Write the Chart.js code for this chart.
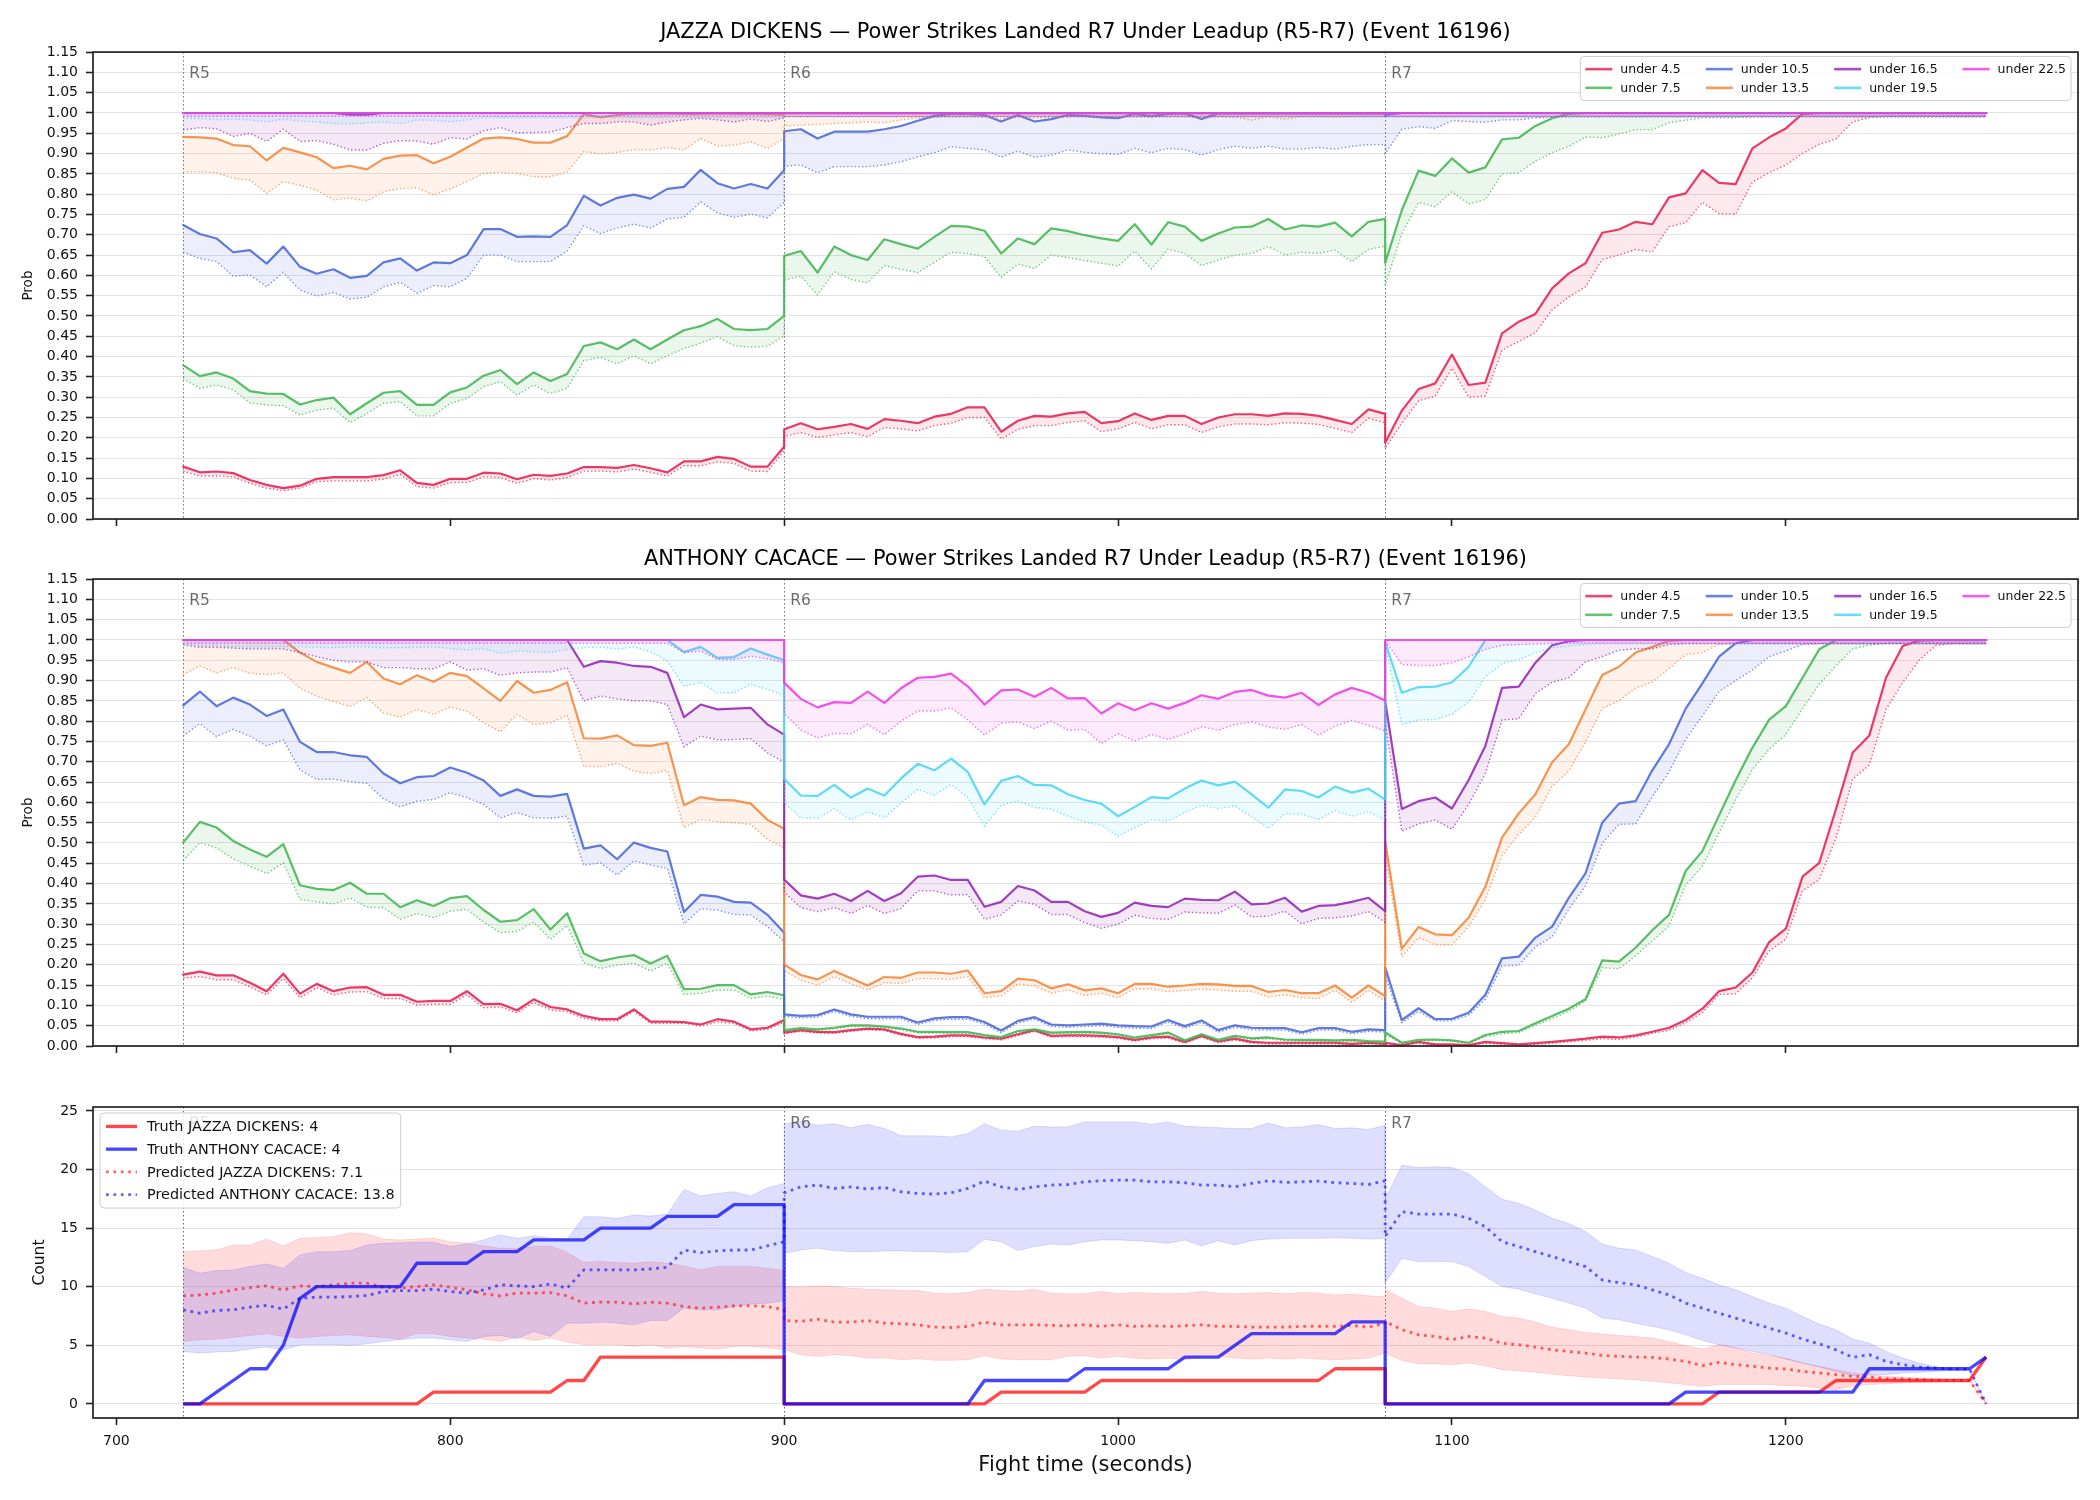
<!DOCTYPE html>
<html><head><meta charset="utf-8">
<script src="https://cdn.jsdelivr.net/npm/chart.js@4.4.1/dist/chart.umd.min.js"></script>
<style>
html,body{margin:0;padding:0;background:#fff;}
#wrap{position:relative;width:2100px;height:1500px;background:#fff;}
canvas{position:absolute;left:0;}
#err{position:absolute;left:10px;top:10px;color:red;font:14px monospace;}
</style></head><body>
<div id="wrap">
<canvas id="c1" width="2100" height="527" style="top:0;width:2100px;height:527px"></canvas>
<canvas id="c2" width="2100" height="533" style="top:527px;width:2100px;height:533px"></canvas>
<canvas id="c3" width="2100" height="440" style="top:1060px;width:2100px;height:440px"></canvas>
<div id="err"></div>
</div>
<script>
// ---------------- DATA ----------------
const fighterNames = ['JAZZA DICKENS', 'ANTHONY CACACE'];
const titleSuffix = ' \u2014 Power Strikes Landed R7 Under Leadup (R5-R7) (Event 16196)';
const roundStarts = [720, 900, 1080];
const roundLabels = ['R5', 'R6', 'R7'];
const xTicks = [700, 800, 900, 1000, 1100, 1200];
const probTicks = [0,0.05,0.10,0.15,0.20,0.25,0.30,0.35,0.40,0.45,0.50,0.55,0.60,0.65,0.70,0.75,0.80,0.85,0.90,0.95,1.00,1.05,1.10,1.15];
const countTicks = [0, 5, 10, 15, 20, 25];
const thresholdLabels = ['under 4.5','under 7.5','under 10.5','under 13.5','under 16.5','under 19.5','under 22.5'];
const truthTotals = [4, 4];
const predictedTotals = [7.1, 13.8];

const times = [720,725,730,735,740,745,750,755,760,765,770,775,780,785,790,795,800,805,810,815,820,825,830,835,840,845,850,855,860,865,870,875,880,885,890,895,900,
900,905,910,915,920,925,930,935,940,945,950,955,960,965,970,975,980,985,990,995,1000,1005,1010,1015,1020,1025,1030,1035,1040,1045,1050,1055,1060,1065,1070,1075,1080,
1080,1085,1090,1095,1100,1105,1110,1115,1120,1125,1130,1135,1140,1145,1150,1155,1160,1165,1170,1175,1180,1185,1190,1195,1200,1205,1210,1215,1220,1225,1230,1235,1240,1245,1250,1255,1260];

// Panel 1: JAZZA DICKENS (solid line and dotted line per threshold)
const jdSolid45 = [.129,.115,.117,.113,.096,.084,.076,.082,.099,.103,.103,.103,.108,.120,.089,.084,.099,.099,.114,.112,.098,.109,.106,.112,.128,.128,.126,.133,.125,.115,.142,.142,.153,.148,.129,.129,.178,
.221,.236,.221,.227,.234,.222,.246,.242,.236,.252,.259,.275,.275,.215,.242,.254,.252,.260,.264,.236,.241,.260,.244,.254,.254,.234,.250,.258,.258,.254,.260,.259,.254,.244,.234,.270,.259,
.188,.267,.320,.334,.405,.330,.336,.457,.486,.505,.568,.605,.630,.705,.713,.732,.726,.792,.802,.859,.828,.825,.913,.940,.962,.998,1,1,1,1,1,1,1,1,1,1,1];
const jdDot45 = [.118,.106,.106,.104,.088,.076,.070,.076,.092,.094,.094,.094,.098,.110,.080,.076,.090,.090,.104,.102,.088,.099,.096,.102,.118,.118,.116,.123,.115,.106,.131,.131,.141,.137,.118,.117,.168,
.203,.213,.201,.207,.213,.203,.225,.222,.217,.230,.236,.250,.250,.197,.221,.230,.230,.238,.242,.215,.222,.238,.222,.232,.232,.213,.227,.234,.234,.232,.237,.236,.233,.223,.213,.248,.237,
.174,.236,.291,.303,.371,.300,.303,.416,.437,.459,.515,.547,.572,.639,.650,.664,.658,.720,.730,.780,.752,.751,.830,.853,.872,.900,.923,.936,.978,.989,.992,.992,.992,.992,.992,.992,.992];
const jdSolid75 = [.379,.352,.361,.346,.315,.309,.308,.282,.293,.299,.258,.285,.311,.315,.281,.281,.312,.324,.353,.367,.332,.361,.340,.357,.426,.435,.418,.442,.418,.442,.465,.475,.493,.468,.465,.468,.500,
.648,.660,.607,.671,.650,.638,.689,.677,.666,.695,.722,.720,.710,.654,.691,.677,.716,.709,.699,.691,.685,.726,.676,.731,.720,.685,.703,.718,.720,.739,.713,.723,.720,.730,.696,.732,.739,
.631,.761,.858,.845,.888,.853,.866,.935,.939,.968,.987,.998,1,1,1,1,1,1,1,1,1,1,1,1,1,1,1,1,1,1,1,1,1,1,1,1,1];
const jdDot75 = [.346,.322,.330,.318,.286,.281,.279,.256,.268,.273,.237,.260,.285,.289,.254,.254,.285,.297,.326,.338,.305,.330,.309,.322,.390,.398,.382,.402,.382,.402,.420,.433,.449,.427,.423,.426,.451,
.589,.598,.552,.609,.590,.582,.624,.615,.607,.632,.657,.654,.646,.595,.628,.617,.650,.644,.636,.630,.623,.660,.616,.665,.654,.624,.638,.650,.654,.671,.650,.657,.654,.662,.634,.664,.672,
.576,.703,.780,.769,.806,.776,.787,.850,.853,.882,.902,.918,.941,.939,.948,.959,.959,.976,.982,.988,.988,.988,.991,.991,.991,.991,.991,.991,.991,.991,.991,.991,.991,.991,.991,.991,.991];
const jdSolid105 = [.724,.702,.691,.657,.662,.629,.671,.621,.604,.615,.594,.599,.632,.642,.612,.632,.630,.650,.714,.714,.695,.696,.695,.724,.796,.772,.791,.799,.789,.813,.818,.860,.827,.814,.825,.814,.859,
.955,.960,.937,.954,.954,.954,.960,.968,.981,.993,.998,.998,.995,.979,.995,.979,.985,.995,.993,.989,.987,.998,.992,.998,.999,.985,.999,.999,.999,.999,.999,.999,.999,.999,.999,.999,.999,
.995,1,1,1,1,1,1,1,1,1,1,1,1,1,1,1,1,1,1,1,1,1,1,1,1,1,1,1,1,1,1,1,1,1,1,1,1];
const jdDot105 = [.657,.642,.634,.598,.601,.572,.607,.564,.549,.558,.542,.546,.572,.583,.556,.575,.572,.593,.650,.650,.634,.634,.634,.660,.722,.703,.717,.726,.717,.739,.743,.781,.754,.743,.751,.742,.780,
.869,.872,.853,.868,.868,.868,.872,.880,.892,.902,.917,.913,.909,.891,.906,.891,.896,.909,.903,.900,.898,.913,.902,.913,.910,.896,.910,.918,.913,.918,.911,.911,.915,.911,.918,.922,.922,
.900,.960,.966,.962,.981,.979,.977,.983,.983,.988,.990,.991,.991,.991,.991,.991,.991,.991,.991,.991,.991,.991,.991,.991,.991,.991,.991,.991,.991,.991,.991,.991,.991,.991,.991,.991,.991];
const jdSolid135 = [.941,.940,.937,.921,.918,.883,.914,.903,.891,.864,.870,.861,.887,.895,.896,.876,.892,.915,.937,.940,.936,.927,.927,.943,.997,.989,.995,.999,.998,.999,.997,.998,.999,.998,.998,.997,.996,
.999,.999,.999,.999,.999,.999,.999,.999,.999,.999,.999,.999,.999,.999,.999,.999,.999,.999,.999,.999,.999,.999,.999,.999,.999,.999,.999,.999,.999,.999,.999,.999,.999,.999,.999,.999,.999,
1,1,1,1,1,1,1,1,1,1,1,1,1,1,1,1,1,1,1,1,1,1,1,1,1,1,1,1,1,1,1,1,1,1,1,1,1];
const jdDot135 = [.855,.855,.853,.839,.835,.802,.831,.822,.810,.786,.791,.783,.806,.814,.816,.798,.813,.831,.851,.854,.851,.843,.843,.855,.905,.899,.903,.910,.909,.915,.909,.937,.919,.921,.929,.913,.937,
.968,.970,.972,.974,.976,.978,.976,.983,.987,.989,.991,.991,.990,.985,.990,.987,.989,.990,.991,.990,.990,.991,.990,.991,.991,.988,.991,.990,.982,.991,.984,.991,.991,.990,.991,.991,.991,
.991,.991,.991,.991,.991,.991,.991,.991,.991,.991,.991,.991,.991,.991,.991,.991,.991,.991,.991,.991,.991,.991,.991,.991,.991,.991,.991,.991,.991,.991,.991,.991,.991,.991,.991,.991,.991];
const jdSolid165 = [1,1,1,1,1,1,1,1,1,1,.996,.996,1,1,1,1,1,1,1,1,1,1,1,1,1,1,1,1,1,1,1,1,1,1,1,1,1,
1,1,1,1,1,1,1,1,1,1,1,1,1,1,1,1,1,1,1,1,1,1,1,1,1,1,1,1,1,1,1,1,1,1,1,1,1,
1,1,1,1,1,1,1,1,1,1,1,1,1,1,1,1,1,1,1,1,1,1,1,1,1,1,1,1,1,1,1,1,1,1,1,1,1];
const jdDot165 = [.958,.964,.961,.942,.950,.930,.960,.930,.932,.923,.909,.909,.925,.932,.931,.923,.939,.936,.956,.964,.951,.952,.953,.964,.974,.974,.978,.978,.970,.978,.983,.987,.983,.978,.985,.979,.988,
.991,.991,.991,.991,.991,.991,.991,.991,.991,.991,.991,.991,.991,.991,.991,.991,.991,.991,.991,.991,.991,.991,.991,.991,.991,.991,.991,.991,.991,.991,.991,.991,.991,.991,.991,.991,.991,
.991,.991,.991,.991,.991,.991,.991,.991,.991,.991,.991,.991,.991,.991,.991,.991,.991,.991,.991,.991,.991,.991,.991,.991,.991,.991,.991,.991,.991,.991,.991,.991,.991,.991,.991,.991,.991];
const jdSolid195 = [1,1,1,1,1,1,1,1,1,1,1,1,1,1,1,1,1,1,1,1,1,1,1,1,1,1,1,1,1,1,1,1,1,1,1,1,1,
1,1,1,1,1,1,1,1,1,1,1,1,1,1,1,1,1,1,1,1,1,1,1,1,1,1,1,1,1,1,1,1,1,1,1,1,1,
1,1,1,1,1,1,1,1,1,1,1,1,1,1,1,1,1,1,1,1,1,1,1,1,1,1,1,1,1,1,1,1,1,1,1,1,1];
const jdDot195 = [.987,.986,.983,.985,.983,.978,.985,.980,.978,.974,.973,.976,.978,.974,.983,.982,.978,.983,.989,.989,.989,.989,.989,.989,.989,.989,.989,.989,.989,.989,.989,.989,.989,.989,.989,.989,.989,
.991,.991,.991,.991,.991,.991,.991,.991,.991,.991,.991,.991,.991,.991,.991,.991,.991,.991,.991,.991,.991,.991,.991,.991,.991,.991,.991,.991,.991,.991,.991,.991,.991,.991,.991,.991,.991,
.991,.991,.991,.991,.991,.991,.991,.991,.991,.991,.991,.991,.991,.991,.991,.991,.991,.991,.991,.991,.991,.991,.991,.991,.991,.991,.991,.991,.991,.991,.991,.991,.991,.991,.991,.991,.991];
const jdSolid225 = [1,1,1,1,1,1,1,1,1,1,1,1,1,1,1,1,1,1,1,1,1,1,1,1,1,1,1,1,1,1,1,1,1,1,1,1,1,
1,1,1,1,1,1,1,1,1,1,1,1,1,1,1,1,1,1,1,1,1,1,1,1,1,1,1,1,1,1,1,1,1,1,1,1,1,
1,1,1,1,1,1,1,1,1,1,1,1,1,1,1,1,1,1,1,1,1,1,1,1,1,1,1,1,1,1,1,1,1,1,1,1,1];
const jdDot225 = [.992,.992,.992,.992,.992,.992,.992,.992,.992,.992,.992,.992,.992,.992,.992,.992,.992,.992,.992,.992,.992,.992,.992,.992,.992,.992,.992,.992,.992,.992,.992,.992,.992,.992,.992,.992,.992,
.992,.992,.992,.992,.992,.992,.992,.992,.992,.992,.992,.992,.992,.992,.992,.992,.992,.992,.992,.992,.992,.992,.992,.992,.992,.992,.992,.992,.992,.992,.992,.992,.992,.992,.992,.992,.992,
.992,.992,.992,.992,.992,.992,.992,.992,.992,.992,.992,.992,.992,.992,.992,.992,.992,.992,.992,.992,.992,.992,.992,.992,.992,.992,.992,.992,.992,.992,.992,.992,.992,.992,.992,.992,.992];

// Panel 2: ANTHONY CACACE
const acSolid45 = [.176,.183,.174,.174,.156,.135,.178,.129,.153,.135,.144,.145,.126,.126,.109,.111,.111,.135,.103,.104,.088,.115,.096,.090,.074,.066,.066,.090,.060,.060,.059,.053,.066,.060,.041,.045,.064,
.033,.039,.035,.034,.039,.043,.041,.030,.022,.023,.026,.026,.021,.018,.029,.039,.025,.026,.026,.025,.022,.015,.021,.023,.010,.025,.011,.018,.010,.008,.008,.008,.008,.008,.005,.008,.005,
.008,.002,.010,.004,.004,.002,.010,.007,.004,.007,.010,.014,.018,.023,.021,.026,.035,.045,.064,.092,.135,.144,.181,.256,.289,.417,.451,.583,.722,.765,.907,.985,.999,1,1,1,1];
const acDot45 = [.167,.171,.163,.163,.146,.126,.166,.119,.144,.126,.133,.134,.117,.117,.101,.103,.103,.126,.094,.096,.082,.107,.089,.084,.068,.062,.062,.085,.056,.056,.056,.049,.059,.056,.037,.041,.059,
.030,.036,.032,.031,.036,.040,.038,.027,.019,.020,.023,.023,.018,.015,.026,.036,.022,.023,.023,.022,.019,.012,.018,.020,.007,.022,.008,.015,.007,.005,.005,.005,.005,.005,.003,.005,.003,
.004,.002,.007,.002,.002,.002,.007,.004,.002,.004,.007,.010,.014,.018,.016,.022,.031,.039,.057,.082,.127,.129,.168,.234,.263,.382,.410,.511,.657,.692,.829,.895,.951,.987,.991,.991,.991];
const acSolid75 = [.501,.552,.538,.505,.484,.466,.497,.396,.387,.384,.402,.375,.375,.342,.359,.345,.364,.369,.335,.306,.310,.337,.287,.327,.228,.209,.218,.224,.203,.222,.140,.141,.150,.150,.127,.133,.125,
.039,.044,.041,.045,.051,.051,.048,.043,.035,.035,.034,.034,.027,.022,.037,.041,.033,.034,.035,.033,.029,.021,.027,.033,.014,.029,.015,.025,.019,.021,.016,.015,.015,.014,.015,.012,.011,
.034,.008,.015,.016,.014,.008,.027,.035,.037,.056,.074,.092,.115,.211,.208,.242,.285,.323,.431,.480,.568,.655,.735,.804,.837,.907,.977,1,1,1,1,1,1,1,1,1,1];
const acDot75 = [.456,.501,.488,.461,.443,.425,.451,.361,.355,.350,.365,.342,.341,.312,.326,.316,.332,.337,.305,.279,.282,.305,.263,.297,.205,.191,.199,.204,.185,.204,.127,.130,.138,.138,.117,.123,.115,
.036,.041,.038,.042,.048,.048,.045,.040,.032,.032,.031,.031,.024,.019,.034,.038,.030,.031,.032,.030,.026,.018,.024,.030,.011,.026,.012,.022,.016,.018,.013,.012,.012,.011,.012,.009,.008,
.029,.006,.012,.014,.012,.007,.023,.030,.033,.051,.067,.086,.111,.193,.190,.222,.259,.295,.396,.443,.525,.607,.681,.731,.767,.831,.891,.936,.978,.987,.992,.992,.992,.992,.992,.992,.992];
const acSolid105 = [.839,.873,.837,.858,.841,.813,.829,.749,.724,.724,.716,.712,.671,.647,.662,.665,.686,.673,.654,.616,.632,.616,.614,.621,.486,.494,.460,.501,.488,.479,.330,.372,.368,.355,.353,.323,.279,
.078,.074,.076,.090,.078,.072,.072,.072,.058,.068,.071,.071,.059,.038,.062,.071,.053,.051,.053,.055,.051,.049,.048,.064,.049,.063,.039,.051,.045,.044,.044,.034,.044,.044,.035,.041,.039,
.193,.064,.093,.066,.067,.082,.126,.216,.220,.267,.294,.365,.425,.550,.597,.603,.679,.743,.831,.893,.959,.992,1,1,1,1,1,1,1,1,1,1,1,1,1,1,1];
const acDot105 = [.763,.794,.762,.780,.763,.739,.754,.680,.657,.657,.651,.647,.609,.589,.603,.607,.624,.612,.595,.562,.575,.562,.561,.566,.445,.451,.421,.456,.446,.437,.301,.338,.335,.324,.323,.294,.257,
.073,.069,.071,.085,.073,.067,.067,.067,.053,.063,.066,.066,.054,.033,.057,.066,.048,.046,.048,.050,.046,.044,.043,.059,.044,.058,.034,.046,.040,.039,.039,.029,.039,.039,.030,.036,.034,
.172,.057,.085,.062,.062,.076,.115,.197,.199,.244,.269,.337,.394,.499,.546,.547,.614,.675,.755,.813,.873,.900,.926,.959,.973,.989,.991,.991,.991,.991,.991,.991,.991,.991,.991,.991,.991];
const acSolid135 = [1,1,1,1,1,1,1,.969,.946,.932,.919,.946,.905,.891,.913,.897,.919,.911,.881,.850,.899,.870,.877,.896,.758,.757,.765,.741,.739,.747,.593,.613,.606,.605,.597,.557,.535,
.201,.175,.164,.185,.167,.149,.170,.168,.181,.181,.178,.186,.130,.135,.166,.162,.142,.152,.137,.142,.130,.153,.153,.146,.149,.153,.152,.148,.148,.133,.138,.130,.130,.149,.119,.149,.123,
.505,.240,.293,.275,.273,.316,.392,.513,.573,.620,.699,.743,.829,.914,.934,.969,.983,.998,1,1,1,1,1,1,1,1,1,1,1,1,1,1,1,1,1,1,1];
const acDot135 = [.915,.936,.919,.932,.918,.915,.919,.881,.862,.848,.837,.858,.821,.810,.829,.817,.835,.825,.796,.774,.817,.792,.796,.814,.689,.688,.696,.677,.671,.679,.538,.558,.552,.550,.546,.509,.488,
.186,.162,.150,.171,.153,.138,.156,.154,.166,.166,.164,.171,.119,.123,.153,.148,.130,.138,.125,.130,.119,.141,.141,.134,.137,.140,.138,.135,.135,.121,.126,.119,.117,.137,.108,.137,.111,
.468,.220,.267,.250,.249,.294,.361,.469,.521,.564,.640,.677,.749,.831,.850,.882,.896,.930,.964,.969,.989,.991,.991,.991,.991,.991,.991,.991,.991,.991,.991,.991,.991,.991,.991,.991,.991];
const acSolid165 = [1,1,1,1,1,1,1,1,1,1,1,1,1,1,1,1,1,1,1,1,1,1,1,1,.934,.948,.944,.936,.934,.919,.810,.841,.829,.831,.833,.792,.767,
.410,.371,.363,.375,.357,.382,.357,.376,.417,.420,.409,.409,.343,.355,.394,.383,.355,.355,.332,.318,.328,.353,.345,.342,.363,.360,.359,.380,.349,.351,.365,.331,.345,.347,.355,.365,.332,
.850,.584,.603,.612,.585,.655,.739,.882,.885,.944,.987,.997,1,1,1,1,1,1,1,1,1,1,1,1,1,1,1,1,1,1,1,1,1,1,1,1,1];
const acDot165 = [.988,.982,.982,.980,.978,.978,.978,.969,.959,.950,.946,.946,.932,.932,.929,.929,.946,.926,.929,.913,.919,.921,.921,.932,.850,.862,.855,.850,.850,.841,.737,.763,.754,.755,.757,.722,.699,
.379,.341,.331,.341,.327,.346,.326,.339,.382,.382,.372,.373,.312,.323,.357,.349,.324,.324,.304,.290,.300,.322,.314,.312,.330,.328,.327,.347,.318,.320,.332,.301,.314,.316,.320,.331,.305,
.796,.529,.547,.557,.534,.595,.671,.803,.806,.868,.896,.907,.946,.959,.975,.978,.978,.989,.991,.991,.991,.991,.991,.991,.991,.991,.991,.991,.991,.991,.991,.991,.991,.991,.991,.991,.991];
const acSolid195 = [1,1,1,1,1,1,1,1,1,1,1,1,1,1,1,1,1,1,1,1,1,1,1,1,1,1,1,1,1,1,.970,.983,.956,.958,.979,.964,.950,
.658,.617,.616,.643,.612,.634,.617,.659,.695,.679,.708,.675,.595,.653,.665,.643,.642,.620,.606,.597,.566,.589,.613,.610,.634,.654,.642,.651,.620,.587,.632,.628,.612,.639,.624,.634,.607,
.995,.870,.884,.885,.896,.934,1,1,1,1,1,1,1,1,1,1,1,1,1,1,1,1,1,1,1,1,1,1,1,1,1,1,1,1,1,1,1];
const acDot195 = [.988,.986,.986,.984,.983,.983,.984,.983,.982,.981,.983,.983,.981,.981,.982,.983,.979,.975,.979,.967,.973,.971,.969,.977,.981,.983,.977,.983,.971,.948,.886,.895,.870,.870,.891,.878,.864,
.599,.562,.561,.585,.557,.577,.562,.599,.632,.617,.644,.612,.542,.593,.603,.587,.584,.566,.552,.544,.517,.538,.557,.554,.575,.593,.585,.591,.565,.536,.573,.571,.558,.579,.566,.577,.557,
.989,.792,.803,.804,.817,.847,.909,.942,.952,.968,.981,.985,.989,.991,.991,.991,.991,.991,.991,.991,.991,.991,.991,.991,.991,.991,.991,.991,.991,.991,.991,.991,.991,.991,.991,.991,.991];
const acSolid225 = [1,1,1,1,1,1,1,1,1,1,1,1,1,1,1,1,1,1,1,1,1,1,1,1,1,1,1,1,1,1,1,1,1,1,1,1,1,
.895,.855,.834,.847,.845,.873,.845,.881,.907,.909,.917,.886,.841,.876,.878,.860,.882,.856,.857,.819,.844,.827,.844,.831,.845,.864,.855,.872,.877,.863,.858,.870,.840,.866,.882,.870,.851,
1,1,1,1,1,1,1,1,1,1,1,1,1,1,1,1,1,1,1,1,1,1,1,1,1,1,1,1,1,1,1,1,1,1,1,1,1];
const acDot225 = [.992,.992,.992,.992,.992,.992,.992,.992,.992,.992,.992,.992,.992,.992,.992,.992,.992,.992,.992,.992,.992,.992,.992,.992,.992,.992,.992,.992,.992,.992,.969,.973,.952,.952,.960,.954,.944,
.819,.778,.759,.770,.769,.792,.767,.800,.825,.825,.833,.803,.766,.795,.798,.782,.800,.778,.780,.745,.769,.751,.767,.755,.769,.786,.778,.792,.798,.786,.780,.792,.766,.788,.802,.790,.776,
.997,.940,.937,.937,.944,.959,.977,.987,.989,.990,.992,.992,.992,.992,.992,.992,.992,.992,.992,.992,.992,.992,.992,.992,.992,.992,.992,.992,.992,.992,.992,.992,.992,.992,.992,.992,.992];

// Panel 3: counts
const truthJD = [0,0,0,0,0,0,0,0,0,0,0,0,0,0,0,1,1,1,1,1,1,1,1,2,2,4,4,4,4,4,4,4,4,4,4,4,4,
0,0,0,0,0,0,0,0,0,0,0,0,0,1,1,1,1,1,1,2,2,2,2,2,2,2,2,2,2,2,2,2,2,3,3,3,3,
0,0,0,0,0,0,0,0,0,0,0,0,0,0,0,0,0,0,0,0,1,1,1,1,1,1,1,2,2,2,2,2,2,2,2,2,4];
const truthAC = [0,0,1,2,3,3,5,9,10,10,10,10,10,10,12,12,12,12,13,13,13,14,14,14,14,15,15,15,15,16,16,16,16,17,17,17,17,
0,0,0,0,0,0,0,0,0,0,0,0,2,2,2,2,2,2,3,3,3,3,3,3,4,4,4,5,6,6,6,6,6,6,7,7,7,
0,0,0,0,0,0,0,0,0,0,0,0,0,0,0,0,0,0,1,1,1,1,1,1,1,1,1,1,1,3,3,3,3,3,3,3,4];
const predJD = [9.22,9.30,9.45,9.73,9.93,10.07,9.73,10.07,10.01,10.16,10.30,10.30,9.96,9.87,10.01,10.16,9.96,9.73,9.39,9.22,9.45,9.45,9.50,9.22,8.60,8.68,8.68,8.54,8.68,8.60,8.31,8.17,8.26,8.37,8.37,8.31,8.03,
7.12,7.04,7.23,6.98,6.98,7.12,6.89,6.84,6.75,6.55,6.52,6.61,6.98,6.75,6.75,6.75,6.70,6.67,6.75,6.61,6.75,6.61,6.67,6.61,6.67,6.75,6.61,6.61,6.55,6.55,6.55,6.61,6.61,6.61,6.70,6.55,6.89,
7.04,6.33,5.90,5.76,5.48,5.76,5.62,5.19,5.05,4.85,4.62,4.48,4.34,4.14,4.06,4.00,3.97,3.83,3.63,3.26,3.55,3.35,3.21,3.06,2.98,2.78,2.64,2.50,2.35,2.30,2.16,2.13,2.07,2.01,2.01,2.01,0];
const predAC = [8.03,7.74,7.97,8.03,8.26,8.40,8.09,9.02,9.11,9.11,9.16,9.25,9.59,9.67,9.67,9.79,9.59,9.45,9.73,10.16,10.07,10.01,10.24,9.87,11.43,11.43,11.43,11.43,11.52,11.66,13.13,12.91,13.05,13.13,13.13,13.48,13.84,
18.00,18.52,18.67,18.38,18.52,18.33,18.47,18.10,17.96,17.90,18.01,18.38,19.01,18.52,18.30,18.52,18.67,18.72,18.95,19.04,19.09,19.09,18.95,18.95,18.87,18.67,18.67,18.52,18.81,19.04,18.89,18.95,19.01,18.87,18.81,18.72,19.04,
14.30,16.40,16.20,16.20,16.20,15.83,15.12,13.84,13.42,12.99,12.57,12.14,11.72,10.58,10.35,10.16,9.73,9.30,8.60,8.17,7.74,7.32,6.89,6.47,6.04,5.53,5.13,4.62,3.97,4.20,3.63,3.35,3.15,3.06,2.98,2.98,0];
const bandJDhi = [12.99,13.05,13.13,13.56,13.56,14.07,13.48,14.13,14.18,14.27,14.61,14.50,14.07,13.99,14.07,14.13,13.84,13.70,13.48,13.28,13.28,13.42,13.48,12.94,12.09,12.14,12.06,12.00,12.14,12.00,11.77,11.43,11.72,11.72,11.72,11.57,11.38,
10.01,9.96,10.07,10.01,9.87,9.79,9.73,9.67,9.67,9.45,9.39,9.50,9.79,9.67,9.59,9.79,9.45,9.39,9.39,9.59,9.39,9.50,9.45,9.39,9.45,9.59,9.45,9.39,9.45,9.50,9.39,9.50,9.45,9.30,9.36,9.22,9.16,
9.79,9.02,8.31,8.17,7.89,8.11,7.89,7.46,7.32,6.98,6.55,6.33,6.10,5.96,5.84,5.76,5.62,5.33,4.96,4.68,5.05,4.77,4.34,4.11,3.91,3.49,3.21,2.92,2.64,2.50,2.35,2.30,2.21,2.13,2.07,2.07,0];
const bandJDlo = [5.33,5.48,5.53,5.67,5.84,5.99,5.76,5.62,5.76,5.84,5.90,5.76,5.67,5.53,5.99,5.99,5.76,5.62,5.53,5.33,5.70,5.42,5.62,5.28,5.05,5.05,5.05,4.91,5.05,4.77,4.91,4.77,4.68,4.91,4.91,4.82,4.62,
4.62,4.20,4.06,4.20,4.11,3.91,3.91,3.77,3.86,3.72,3.72,3.77,4.11,3.83,3.77,3.77,3.77,4.06,4.11,3.91,4.06,3.91,3.83,3.91,3.77,3.97,4.06,3.91,3.83,3.91,3.83,3.91,3.83,3.77,3.83,3.91,4.34,
4.34,3.72,3.43,3.43,3.35,3.49,3.26,2.92,2.84,2.70,2.55,2.41,2.30,2.21,2.13,2.07,1.93,1.79,1.65,1.50,1.65,1.65,1.65,1.65,1.56,1.50,1.36,1.22,1.56,1.65,1.73,1.79,1.84,1.87,1.93,1.93,0];
const bandAChi = [11.63,11.15,11.38,11.43,11.72,11.94,11.57,12.71,12.99,12.99,13.08,13.56,13.70,13.76,13.79,13.79,13.42,13.65,13.99,14.41,14.13,14.35,14.13,14.07,15.97,15.97,15.83,16.11,16.03,16.20,18.30,17.73,17.96,18.10,17.73,18.44,18.81,
23.91,24.11,23.77,23.91,23.55,23.86,23.49,22.87,22.87,22.87,22.78,23.06,23.91,23.35,23.26,23.69,23.63,23.63,24.06,24.06,24.06,24.06,23.86,24.06,23.69,23.63,23.57,23.49,23.49,23.97,23.55,23.63,23.83,23.49,23.55,23.40,23.77,
17.50,20.37,20.17,20.23,20.17,19.66,18.52,17.45,17.11,16.54,15.83,15.40,14.70,13.65,13.28,13.13,12.57,12.00,11.21,10.72,10.16,9.73,9.16,8.60,8.17,7.46,6.81,6.33,5.53,5.19,4.48,3.91,3.49,3.15,2.98,2.92,0];
const bandAClo = [4.48,4.34,4.43,4.48,4.68,4.85,4.57,5.05,5.05,5.05,4.99,5.13,5.33,5.48,5.62,5.62,5.48,5.33,5.76,5.84,5.56,6.18,5.76,6.89,6.89,6.98,6.89,6.75,7.12,7.12,8.17,8.03,8.03,8.31,8.51,8.60,8.79,
12.85,13.13,13.28,13.08,12.99,12.99,13.05,13.05,12.99,12.99,12.91,12.99,14.04,13.84,13.08,13.42,13.65,13.56,13.84,13.99,13.99,13.93,13.84,13.70,13.99,13.48,13.93,13.56,13.93,14.07,14.13,14.13,14.13,14.18,14.13,14.07,14.13,
10.30,12.43,12.14,12.14,12.14,11.72,10.87,10.01,9.79,9.39,9.02,8.60,8.17,7.32,7.18,6.89,6.61,6.33,5.90,5.42,5.05,4.77,4.48,4.20,3.83,3.49,3.15,2.78,2.41,2.50,2.50,2.64,2.70,2.78,2.87,2.92,0];

// ---------------- STYLE / BUILD ----------------
const thresholdColors = [[230,25,75],[60,180,75],[67,99,216],[245,130,49],[145,30,180],[66,212,244],[240,50,230]];
const FONT = "'DejaVu Sans', sans-serif";
Chart.defaults.font.family = FONT;
Chart.defaults.color = '#111';

const check = {jdSolid45,jdDot45,jdSolid75,jdDot75,jdSolid105,jdDot105,jdSolid135,jdDot135,jdSolid165,jdDot165,jdSolid195,jdDot195,jdSolid225,jdDot225,
acSolid45,acDot45,acSolid75,acDot75,acSolid105,acDot105,acSolid135,acDot135,acSolid165,acDot165,acSolid195,acDot195,acSolid225,acDot225,
truthJD,truthAC,predJD,predAC,bandJDhi,bandJDlo,bandAChi,bandAClo};
const bad = Object.entries(check).filter(([k,v]) => v.length !== times.length).map(([k,v]) => k + ':' + v.length);
if (bad.length) document.getElementById('err').textContent = 'LEN ' + times.length + ' ' + bad.join(' ');

const rgba = (c, a) => `rgba(${c[0]},${c[1]},${c[2]},${a})`;
const pts = arr => arr.map((y, i) => ({x: times[i], y}));
const xMin = 693.0, xMax = 1287.5;

const framePlugin = {
  id: 'frame',
  afterDatasetsDraw(chart) {
    const {ctx, chartArea: ca} = chart;
    ctx.save();
    ctx.strokeStyle = '#222'; ctx.lineWidth = 1.7;
    ctx.strokeRect(ca.left, ca.top, ca.right - ca.left, ca.bottom - ca.top);
    ctx.restore();
  }
};
const roundsPlugin = {
  id: 'rounds',
  beforeDatasetsDraw(chart) {
    const {ctx, chartArea: ca, scales: {x}} = chart;
    ctx.save();
    ctx.strokeStyle = 'rgba(60,60,60,0.75)'; ctx.lineWidth = 1; ctx.setLineDash([1.5, 2.5]);
    roundStarts.forEach(t => {
      const px = Math.round(x.getPixelForValue(t)) + 0.5;
      ctx.beginPath(); ctx.moveTo(px, ca.top); ctx.lineTo(px, ca.bottom); ctx.stroke();
    });
    ctx.restore();
  },
  afterDatasetsDraw(chart, args, o) {
    const {ctx, chartArea: ca, scales: {x}} = chart;
    ctx.save();
    ctx.font = `15.5px ${FONT}`; ctx.fillStyle = 'rgba(0,0,0,0.58)';
    ctx.textAlign = 'left'; ctx.textBaseline = 'middle';
    roundStarts.forEach((t, i) => ctx.fillText(roundLabels[i], x.getPixelForValue(t) + 6, ca.top + o.labelDy));
    ctx.restore();
  }
};
const boxLegendPlugin = {
  id: 'boxLegend',
  afterDraw(chart, args, o) {
    const ctx = chart.ctx, ca = chart.chartArea;
    ctx.save();
    ctx.font = `${o.fontSize}px ${FONT}`;
    const items = o.items, rows = o.rows, cols = Math.ceil(items.length / rows);
    const colW = [];
    for (let c = 0; c < cols; c++) {
      let w = 0;
      for (let r = 0; r < rows; r++) { const it = items[c * rows + r]; if (it) w = Math.max(w, ctx.measureText(it.text).width); }
      colW.push(w);
    }
    const boxW = 2 * o.padX + colW.reduce((s, w) => s + o.handle + o.gap + w, 0) + o.colSpace * (cols - 1);
    const boxH = 2 * o.padY + o.rowH * rows;
    const x0 = o.align === 'right' ? ca.right - o.dx - boxW : ca.left + o.dx;
    const y0 = ca.top + o.dy;
    const r = 4;
    ctx.beginPath();
    ctx.moveTo(x0 + r, y0);
    ctx.arcTo(x0 + boxW, y0, x0 + boxW, y0 + boxH, r);
    ctx.arcTo(x0 + boxW, y0 + boxH, x0, y0 + boxH, r);
    ctx.arcTo(x0, y0 + boxH, x0, y0, r);
    ctx.arcTo(x0, y0, x0 + boxW, y0, r);
    ctx.closePath();
    ctx.fillStyle = 'rgba(255,255,255,0.8)'; ctx.fill();
    ctx.strokeStyle = '#cccccc'; ctx.lineWidth = 1; ctx.stroke();
    let cx = x0 + o.padX;
    for (let c = 0; c < cols; c++) {
      for (let rr = 0; rr < rows; rr++) {
        const it = items[c * rows + rr]; if (!it) continue;
        const cy = y0 + o.padY + o.rowH * (rr + 0.5);
        ctx.beginPath(); ctx.setLineDash(it.dash || []); ctx.lineWidth = it.width; ctx.strokeStyle = it.color;
        ctx.lineCap = 'butt';
        ctx.moveTo(cx, cy); ctx.lineTo(cx + o.handle, cy); ctx.stroke();
        ctx.setLineDash([]);
        ctx.fillStyle = '#111'; ctx.textAlign = 'left'; ctx.textBaseline = 'middle';
        ctx.fillText(it.text, cx + o.handle + o.gap, cy + 1);
      }
      cx += o.handle + o.gap + colW[c] + o.colSpace;
    }
    ctx.restore();
  }
};

function zeroPad(s) { s.paddingTop = 0; s.paddingBottom = 0; s.paddingLeft = 0; s.paddingRight = 0; }
function xAxis(height, labels) {
  return {
    type: 'linear', min: xMin, max: xMax,
    afterBuildTicks: s => { s.ticks = xTicks.map(v => ({value: v})); },
    afterFit: s => { s.height = height; zeroPad(s); },
    ticks: {display: labels, autoSkip: false, maxRotation: 0, font: {size: 14}, color: '#111', padding: 8, callback: v => String(v)},
    grid: {drawOnChartArea: false, tickLength: 7, tickColor: '#222', tickWidth: 1.6},
    border: {display: false},
    title: labels ? {display: true, text: 'Fight time (seconds)', font: {size: 21}, color: '#111', padding: {top: 4, bottom: 21.5}} : {display: false}
  };
}
function yAxis(min, max, tickVals, fmt, titleText, titleSize, titlePad) {
  return {
    type: 'linear', min, max,
    afterBuildTicks: s => { s.ticks = tickVals.map(v => ({value: v})); },
    afterFit: s => { s.width = 93; zeroPad(s); },
    ticks: {autoSkip: false, callback: fmt, font: {size: 14}, color: '#111', padding: 8},
    grid: {color: 'rgba(0,0,0,0.11)', lineWidth: 1, tickLength: 7, tickColor: '#222', tickWidth: 1.6},
    border: {display: false},
    title: {display: true, text: titleText, font: {size: titleSize}, color: '#111', padding: {top: titlePad, bottom: 0}}
  };
}

function probChart(canvasId, fighterIdx, solids, dots, xHeight) {
  const datasets = [];
  thresholdLabels.forEach((lab, k) => {
    const c = thresholdColors[k];
    datasets.push({label: lab, data: pts(solids[k]), borderColor: rgba(c, 0.85), borderWidth: 2.2, pointRadius: 0,
      fill: false, order: -(2 * k + 1), borderJoinStyle: 'round', borderCapStyle: 'round'});
    datasets.push({label: lab + ' model', data: pts(dots[k]), borderColor: rgba(c, 0.7), borderWidth: 1.4, borderDash: [1.4, 2.3],
      pointRadius: 0, fill: '-1', backgroundColor: rgba(c, 0.1), order: -(2 * k)});
  });
  const items = thresholdLabels.map((lab, k) => ({text: lab, color: rgba(thresholdColors[k], 0.8), width: 2.6}));
  return new Chart(document.getElementById(canvasId), {
    type: 'line',
    data: {datasets},
    options: {
      responsive: false, animation: false, devicePixelRatio: 1, events: [],
      layout: {padding: {left: 0, right: 22, top: 0, bottom: 0}},
      scales: {
        x: xAxis(xHeight, false),
        y: yAxis(0, 1.15, probTicks, v => v.toFixed(2), 'Prob', 13.5, 20)
      },
      plugins: {
        legend: {display: false}, tooltip: {enabled: false},
        title: {display: true, text: fighterNames[fighterIdx] + titleSuffix, fullSize: false,
          font: {size: 20.9, weight: 'normal'}, color: '#000', padding: {top: 20.5, bottom: 6.5}},
        rounds: {labelDy: 21.5},
        boxLegend: {items, rows: 2, fontSize: 12.5, handle: 27, gap: 8, colSpace: 25, padX: 5, padY: 3.3, rowH: 18.7, align: 'right', dx: 7, dy: 4.4}
      }
    },
    plugins: [roundsPlugin, framePlugin, boxLegendPlugin]
  });
}

probChart('c1', 0, [jdSolid45,jdSolid75,jdSolid105,jdSolid135,jdSolid165,jdSolid195,jdSolid225],
  [jdDot45,jdDot75,jdDot105,jdDot135,jdDot165,jdDot195,jdDot225], 8);
probChart('c2', 1, [acSolid45,acSolid75,acSolid105,acSolid135,acSolid165,acSolid195,acSolid225],
  [acDot45,acDot75,acDot105,acDot135,acDot165,acDot195,acDot225], 14);

// Panel 3
const red = [255, 0, 0], blue = [0, 0, 255];
const truthLabels = fighterNames.map((n, i) => `Truth ${n}: ${truthTotals[i]}`);
const predLabels = fighterNames.map((n, i) => `Predicted ${n}: ${predictedTotals[i]}`);
const dotDash = [2.8, 4.6];
const countDatasets = [
  {label: truthLabels[1], data: pts(truthAC), borderColor: rgba(blue, 0.72), borderWidth: 3.3, pointRadius: 0, fill: false, order: 0, borderJoinStyle: 'round'},
  {label: truthLabels[0], data: pts(truthJD), borderColor: rgba(red, 0.72), borderWidth: 3.3, pointRadius: 0, fill: false, order: 1, borderJoinStyle: 'round'},
  {label: predLabels[1], data: pts(predAC), borderColor: rgba(blue, 0.6), borderWidth: 2.8, borderDash: dotDash, pointRadius: 0, fill: false, order: 2},
  {label: predLabels[0], data: pts(predJD), borderColor: rgba(red, 0.6), borderWidth: 2.8, borderDash: dotDash, pointRadius: 0, fill: false, order: 3},
  {label: 'AC band low', data: pts(bandAClo), borderColor: rgba(blue, 0.12), borderWidth: 1, pointRadius: 0, fill: false, order: 4},
  {label: 'AC band high', data: pts(bandAChi), borderColor: rgba(blue, 0.12), borderWidth: 1, pointRadius: 0, fill: '-1', backgroundColor: rgba(blue, 0.13), order: 5},
  {label: 'JD band low', data: pts(bandJDlo), borderColor: rgba(red, 0.12), borderWidth: 1, pointRadius: 0, fill: false, order: 6},
  {label: 'JD band high', data: pts(bandJDhi), borderColor: rgba(red, 0.12), borderWidth: 1, pointRadius: 0, fill: '-1', backgroundColor: rgba(red, 0.14), order: 7}
];
const countItems = [
  {text: truthLabels[0], color: rgba(red, 0.72), width: 3.3},
  {text: truthLabels[1], color: rgba(blue, 0.72), width: 3.3},
  {text: predLabels[0], color: rgba(red, 0.6), width: 2.8, dash: dotDash},
  {text: predLabels[1], color: rgba(blue, 0.6), width: 2.8, dash: dotDash}
];
new Chart(document.getElementById('c3'), {
  type: 'line',
  data: {datasets: countDatasets},
  options: {
    responsive: false, animation: false, devicePixelRatio: 1, events: [],
    layout: {padding: {left: 0, right: 22, top: 47, bottom: 0}},
    scales: {
      x: xAxis(82, true),
      y: yAxis(-1.2, 25.33, countTicks, v => String(v), 'Count', 15.5, 31)
    },
    plugins: {
      legend: {display: false}, tooltip: {enabled: false}, title: {display: false},
      rounds: {labelDy: 17},
      boxLegend: {items: countItems, rows: 4, fontSize: 14.4, handle: 31, gap: 10, colSpace: 0, padX: 6, padY: 2.1, rowH: 22.7, align: 'left', dx: 7, dy: 6}
    }
  },
  plugins: [roundsPlugin, framePlugin, boxLegendPlugin]
});
</script>
</body></html>
